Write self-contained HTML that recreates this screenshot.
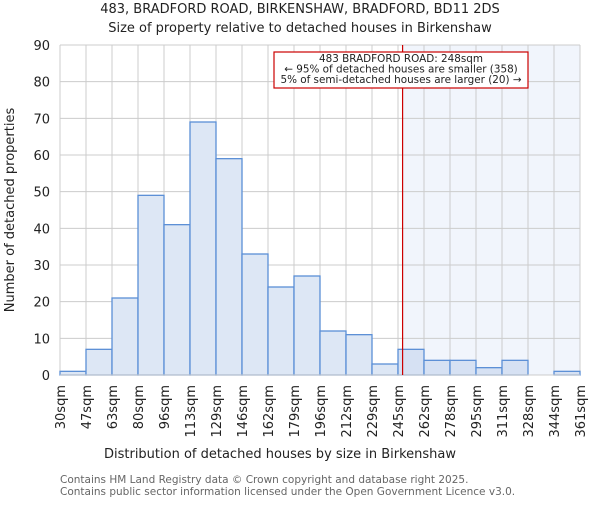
<!DOCTYPE html>
<html><head><meta charset="utf-8"><style>
body{margin:0;background:#fff;}
svg{font-family:"DejaVu Sans","Liberation Sans",sans-serif;}
</style></head><body>
<svg id="chart" width="600" height="500">
<text x="300" y="13" text-anchor="middle" font-size="13" fill="#222">483, BRADFORD ROAD, BIRKENSHAW, BRADFORD, BD11 2DS</text>
<text x="300" y="32" text-anchor="middle" font-size="13" fill="#222">Size of property relative to detached houses in Birkenshaw</text>
<g id="grid"></g><g id="bars"></g><g id="axes"></g>
<text x="280" y="458" text-anchor="middle" font-size="13" fill="#222">Distribution of detached houses by size in Birkenshaw</text>
<text transform="translate(14,210) rotate(-90)" text-anchor="middle" font-size="13" fill="#222">Number of detached properties</text>
<text x="60" y="483" font-size="10.5" fill="#666">Contains HM Land Registry data © Crown copyright and database right 2025.</text>
<text x="60" y="495" font-size="10.5" fill="#666">Contains public sector information licensed under the Open Government Licence v3.0.</text>
</svg>
<script>
const edgeLabels=["30sqm","47sqm","63sqm","80sqm","96sqm","113sqm","129sqm","146sqm","162sqm","179sqm","196sqm","212sqm","229sqm","245sqm","262sqm","278sqm","295sqm","311sqm","328sqm","344sqm","361sqm"];
const edges=[30,47,63,80,96,113,129,146,162,179,196,212,229,245,262,278,295,311,328,344,361];
const counts=[1,7,21,49,41,69,59,33,24,27,12,11,3,7,4,4,2,4,0,1];
const yTicks=[0,10,20,30,40,50,60,70,80,90];
const markerValue=248;
const NS="http://www.w3.org/2000/svg";
const L=60,R=580,T=45,B=375,yMax=90;
const nb=counts.length;
const xi=i=>L+(R-L)*i/nb;
const xv=v=>{for(let i=0;i<edges.length-1;i++){if(v<=edges[i+1])return xi(i)+(v-edges[i])/(edges[i+1]-edges[i])*(R-L)/nb;}return R;};
const y=v=>B-(B-T)*v/yMax;
function mk(tag,attrs,parent){const e=document.createElementNS(NS,tag);for(const k in attrs)e.setAttribute(k,attrs[k]);parent.appendChild(e);return e;}
const grid=document.getElementById('grid'),bars=document.getElementById('bars'),axes=document.getElementById('axes');
const mx=xv(markerValue);
const sh=mk('rect',{x:mx,y:T,width:R-mx,height:B-T,fill:'#eef2fb',opacity:0.8},grid);


yTicks.forEach(t=>{
 const l=mk('line',{x1:L,x2:R,y1:y(t),y2:y(t),stroke:'#ccc','stroke-width':1},grid);
 
 
 const tx=mk('text',{x:L-10,y:y(t)+5,'text-anchor':'end','font-size':13,fill:'#222'},axes);
 tx.textContent=t;
 
 
});
edgeLabels.forEach((lab,i)=>{
 const l=mk('line',{x1:xi(i),x2:xi(i),y1:T,y2:B,stroke:'#ccc','stroke-width':1},grid);
 
 
 const tx=mk('text',{transform:`translate(${xi(i)+5},${B+10}) rotate(-90)`,'text-anchor':'end','font-size':13,fill:'#222'},axes);
 tx.textContent=lab;
 
 
});
counts.forEach((c,i)=>{
 if(c<=0)return;
 const r=mk('rect',{x:xi(i),y:y(c),width:(R-L)/nb,height:B-y(c),fill:i>=13?'#d6e1f3':'#dde7f5',stroke:'#5b8fd6','stroke-width':1.3},bars);
 
 
});
const ax=mk('line',{x1:L,x2:R,y1:B,y2:B,stroke:'#ccc','stroke-width':1},axes);


const ml=mk('line',{x1:mx,x2:mx,y1:T,y2:B,stroke:'#cc0000','stroke-width':1.2},axes);


const g=mk('g',{},axes);


mk('rect',{x:274,y:52,width:254,height:36,fill:'#fff',stroke:'#cc0000','stroke-width':1.2},g);
["483 BRADFORD ROAD: 248sqm","← 95% of detached houses are smaller (358)","5% of semi-detached houses are larger (20) →"].forEach((s,i)=>{
 const t=mk('text',{x:401,y:62+i*10.5,'text-anchor':'middle','font-size':10.4,fill:'#222'},g);
 t.textContent=s;
 
 
});
</script>
</body></html>
